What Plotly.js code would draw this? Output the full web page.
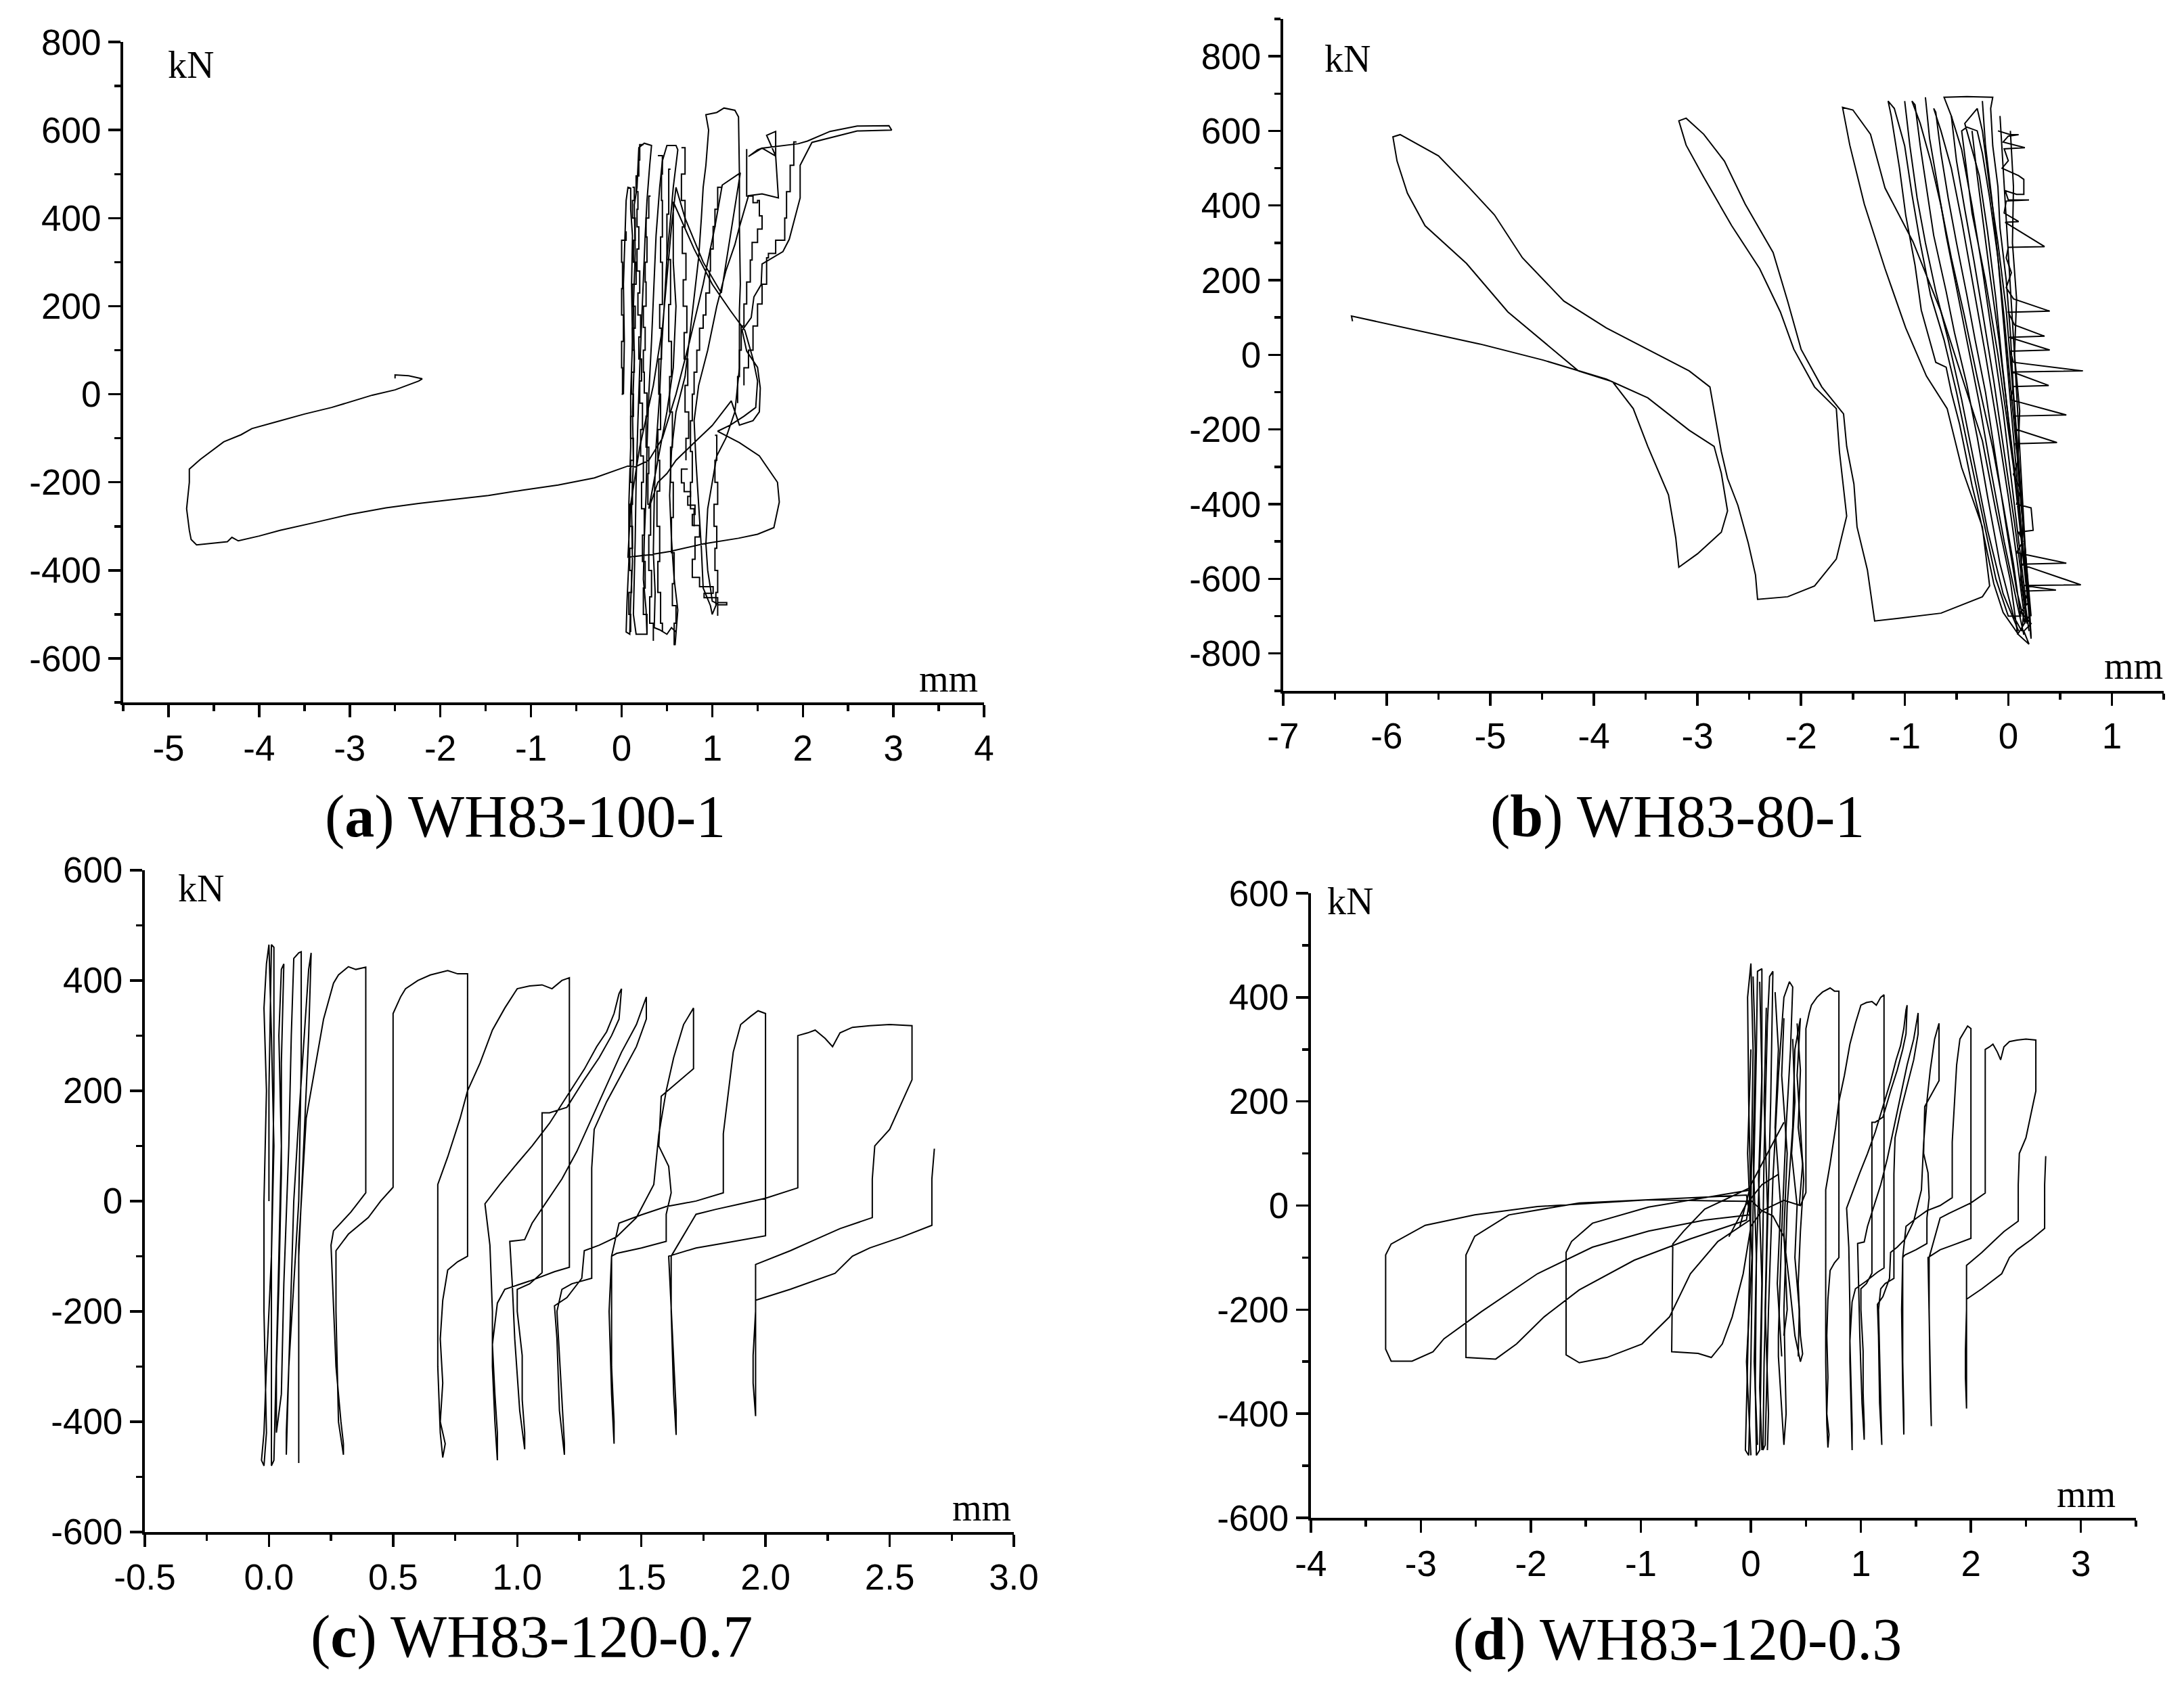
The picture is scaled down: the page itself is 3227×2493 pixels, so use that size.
<!DOCTYPE html>
<html><head><meta charset="utf-8">
<script src="https://cdn.plot.ly/plotly-3.0.1.min.js"></script>
<style>html,body{margin:0;padding:0;background:#fff}#chart{width:3227px;height:2493px}</style>
</head><body><div id="chart"></div>
<script>
// ---------------- data (displacement mm, load kN) ----------------
const aPts = [[0.02,0],[0.03,120],[0.02,250],[0.04,380],[0.05,440],[0.07,470],[0.1,468],[0.1,420],[0.12,360],[0.11,250],[0.12,120],[0.1,0],[0.1,-120],[0.08,-250],[0.08,-380],[0.06,-470],[0.05,-540],[0.09,-545],[0.1,-470],[0.12,-380],[0.11,-260],[0.13,-150],[0.12,-40],[0.14,80],[0.13,200],[0.15,320],[0.14,430],[0.17,470],[0.19,560],[0.25,570],[0.33,565],[0.31,520],[0.28,440],[0.26,360],[0.24,260],[0.22,170],[0.2,60],[0.18,-60],[0.16,-200],[0.15,-330],[0.14,-440],[0.13,-500],[0.16,-545],[0.28,-545],[0.27,-490],[0.24,-420],[0.25,-330],[0.27,-230],[0.28,-120],[0.3,0],[0.33,120],[0.36,250],[0.38,360],[0.42,470],[0.45,530],[0.5,565],[0.6,565],[0.62,555],[0.57,470],[0.54,400],[0.5,310],[0.47,200],[0.44,100],[0.42,0],[0.38,-120],[0.36,-240],[0.35,-360],[0.37,-450],[0.36,-530],[0.42,-535],[0.5,-545],[0.55,-530],[0.6,-540],[0.59,-570],[0.62,-490],[0.58,-420],[0.55,-330],[0.53,-230],[0.55,-130],[0.6,-40],[0.7,40],[0.75,130],[0.8,220],[0.85,310],[0.88,400],[0.9,470],[0.93,520],[0.96,600],[0.93,635],[1.05,640],[1.13,650],[1.25,645],[1.29,630],[1.3,500],[1.3,380],[1.31,250],[1.3,192],[1.3,60],[1.25,-40],[1.15,-100],[1.05,-140],[1.0,-200],[0.95,-260],[0.93,-340],[0.95,-400],[0.98,-440],[1.0,-470],[1.05,-475],[1.0,-500],[0.98,-480],[0.9,-440],[0.88,-350],[0.85,-250],[0.82,-150],[0.8,-60],[0.85,20],[0.95,100],[1.05,200],[1.15,280],[1.25,340],[1.3,380],[1.4,451],[1.55,455],[1.73,446],[1.7,541],[1.6,588],[1.7,597],[1.7,541],[1.55,559],[1.5,555],[1.4,540],[1.55,559],[1.95,569],[2.05,575],[2.3,597],[2.6,609],[2.95,610],[2.98,600],[2.6,598],[2.35,585],[2.1,572],[1.97,520],[1.97,446],[1.85,352],[1.78,324],[1.55,296],[1.54,249],[1.46,221],[1.43,174],[1.33,145],[1.38,98],[1.5,61],[1.53,14],[1.52,-40],[1.45,-60],[1.3,-70],[1.21,-15],[1.0,-71],[0.9,-90],[0.8,-110],[0.7,-130],[0.6,-150],[0.5,-180],[0.4,-200],[0.35,-230],[0.3,-260],[0.4,-150],[0.5,-40],[0.57,60],[0.6,200],[0.57,300],[0.57,437],[0.8,330],[1.0,250],[1.2,190],[1.36,145],[1.45,80],[1.5,30],[1.48,-30],[1.35,-50],[1.2,-70],[1.06,-84],[1.3,-110],[1.52,-140],[1.72,-200],[1.74,-245],[1.68,-303],[1.5,-318],[1.29,-327],[0.9,-340],[0.53,-357],[0.3,-365],[0.07,-370],[0.1,-250],[0.2,-120],[0.35,20],[0.45,150],[0.5,260],[0.55,380],[0.6,470],[0.7,400],[0.9,300],[1.1,230],[1.31,503],[1.21,489],[1.11,475],[1.03,381],[0.9,250],[0.75,120],[0.6,0],[0.45,-100],[0.3,-150],[0.15,-165],[0.07,-163],[-0.3,-190],[-0.7,-206],[-1.1,-218],[-1.47,-230],[-1.9,-240],[-2.24,-248],[-2.6,-258],[-3.0,-273],[-3.4,-292],[-3.77,-309],[-4.0,-322],[-4.23,-333],[-4.3,-325],[-4.35,-335],[-4.69,-342],[-4.75,-330],[-4.77,-309],[-4.8,-260],[-4.77,-200],[-4.77,-170],[-4.65,-148],[-4.5,-125],[-4.39,-108],[-4.2,-92],[-4.08,-78],[-3.8,-62],[-3.5,-45],[-3.2,-30],[-3.0,-18],[-2.75,-2],[-2.5,10],[-2.24,30],[-2.2,35],[-2.35,42],[-2.5,44],[-2.5,36]];

// staircase-like strands of the dense cluster in (a)
const aStairs = [
 [[0.12,470],[0.14,440],[0.12,400],[0.15,350],[0.13,300],[0.16,250],[0.12,200],[0.15,150],[0.12,100],[0.14,50],[0.11,0],[0.13,-50],[0.1,-100],[0.13,-150],[0.1,-200],[0.12,-250],[0.09,-300],[0.12,-350],[0.09,-400],[0.11,-450],[0.08,-500],[0.1,-540]],
 [[0.0,0],[0.01,60],[0.0,120],[0.02,180],[0.0,240],[0.01,300],[0.0,350],[0.05,370]],
 [[0.24,567],[0.2,532],[0.19,496],[0.16,460],[0.18,420],[0.17,380],[0.19,330],[0.17,280],[0.2,230],[0.18,180],[0.21,130],[0.19,80],[0.22,30],[0.2,-20],[0.23,-80],[0.21,-140],[0.24,-200],[0.22,-260],[0.25,-320],[0.23,-380],[0.26,-440],[0.24,-500],[0.28,-545]],
 [[0.32,450],[0.3,400],[0.27,357],[0.28,300],[0.26,255],[0.27,200],[0.24,152],[0.26,100],[0.24,50],[0.25,3],[0.28,-50],[0.27,-120],[0.3,-180],[0.29,-250],[0.32,-320],[0.3,-400],[0.33,-460],[0.31,-520],[0.35,-560]],
 [[0.4,542],[0.45,500],[0.44,440],[0.45,357],[0.43,300],[0.45,204],[0.42,150],[0.44,80],[0.41,0],[0.43,-80],[0.4,-150],[0.42,-220],[0.39,-300],[0.42,-380],[0.4,-450],[0.43,-520],[0.45,-540]],
 [[0.54,511],[0.52,409],[0.5,306],[0.54,204],[0.52,120],[0.55,40],[0.53,-40],[0.56,-120],[0.54,-200],[0.57,-280],[0.55,-360],[0.58,-430],[0.56,-480],[0.6,-520],[0.58,-570]],
 [[1.11,470],[1.06,420],[1.03,381],[1.01,330],[0.98,280],[0.97,230],[0.93,180],[0.9,150],[0.86,100],[0.83,50],[0.8,0],[0.78,-60],[0.76,-130],[0.78,-200],[0.76,-260],[0.8,-300]],
 [[1.38,557],[1.38,450],[1.45,435],[1.5,440],[1.52,405],[1.55,375],[1.5,345],[1.44,305],[1.42,255],[1.38,205],[1.35,155],[1.32,100],[1.3,40],[1.28,-20]],
 [[1.93,573],[1.9,520],[1.86,460],[1.82,400],[1.8,350],[1.7,320],[1.62,310],[1.6,250],[1.55,205],[1.5,155],[1.45,100],[1.4,60],[1.35,20]],
 [[0.73,-170],[0.66,-201],[0.69,-221],[0.76,-232],[0.73,-252],[0.81,-273],[0.78,-298],[0.86,-324],[0.81,-375],[0.78,-416],[0.86,-437],[1.01,-452],[0.91,-462],[1.06,-478],[1.16,-473],[1.06,-503]],
 [[1.03,-93],[1.05,-150],[1.03,-200],[1.06,-250],[1.02,-300],[1.05,-350],[1.03,-400],[1.06,-450],[1.04,-478]],
 [[0.66,560],[0.7,500],[0.66,440],[0.7,380],[0.67,320],[0.71,260],[0.68,200],[0.72,140],[0.69,80],[0.73,20],[0.7,-40],[0.74,-100],[0.71,-150]]
];

const bCore = [[-0.1,600],[0.02,590],[0.1,590],[0.0,586],[-0.05,570],[0.16,555],[-0.04,552],[0.0,520],[-0.06,500],[0.1,480],[0.15,470],[0.15,430],[0.08,430],[-0.03,440],[0.0,415],[0.2,415],[-0.02,412],[-0.04,380],[0.1,357],[-0.03,355],[0.35,290],[0.0,288],[-0.02,260],[0.03,220],[-0.02,180],[0.05,150],[0.4,117],[0.0,114],[0.06,80],[0.35,50],[0.01,47],[0.4,13],[0.02,10],[0.05,-20],[0.72,-43],[0.04,-46],[0.39,-82],[0.05,-85],[0.02,-120],[0.56,-161],[0.06,-164],[0.08,-200],[0.47,-235],[0.07,-238],[0.1,-280],[0.05,-320],[0.12,-360],[0.08,-400],[0.22,-410],[0.24,-470],[0.1,-475],[0.14,-500],[0.08,-530],[0.56,-558],[0.12,-561],[0.7,-616],[0.15,-618],[0.46,-630],[0.14,-633],[0.2,-660],[0.12,-690],[0.22,-720],[0.15,-740],[0.2,-775]];

const bBand = [[0.1,-750],[-0.05,-690],[-0.14,-613],[-0.27,-440],[-0.35,-350],[-0.47,-186],[-0.55,-100],[-0.6,-33],[-0.7,-20],[-0.84,120],[-0.9,240],[-0.99,374],[-1.05,500],[-1.13,640],[-1.16,680],[-1.1,660],[-1.0,560],[-0.93,430],[-0.85,300],[-0.75,160],[-0.62,40],[-0.5,-100],[-0.38,-260],[-0.25,-430],[-0.12,-600],[0.0,-700],[0.12,-700],[0.05,-560],[-0.05,-400],[-0.15,-250],[-0.3,-60],[-0.42,100],[-0.55,260],[-0.65,400],[-0.75,520],[-0.85,620],[-0.93,680],[-0.9,670],[-0.85,560],[-0.78,430],[-0.72,320],[-0.6,170],[-0.52,60],[-0.4,-80],[-0.3,-220],[-0.2,-380],[-0.08,-560],[0.05,-700],[0.13,-740],[0.15,-690],[0.08,-540],[0.0,-380],[-0.1,-200],[-0.22,0],[-0.35,200],[-0.45,360],[-0.55,500],[-0.65,600],[-0.72,660],[-0.7,650],[-0.65,540],[-0.58,420],[-0.5,300],[-0.4,160],[-0.32,40],[-0.22,-100],[-0.12,-280],[-0.02,-460],[0.08,-630],[0.16,-720],[0.17,-660],[0.1,-500],[0.03,-330],[-0.05,-150],[-0.15,40],[-0.25,230],[-0.35,400],[-0.45,550],[-0.55,640],[-0.62,690],[-0.4,692],[-0.2,690],[-0.15,690],[-0.17,660],[-0.15,560],[-0.1,450],[-0.08,340],[-0.02,200],[0.02,60],[0.05,-100],[0.1,-280],[0.15,-480],[0.2,-650],[0.22,-760],[0.2,-700],[0.15,-540],[0.1,-380],[0.05,-220],[0.0,-60],[-0.05,100],[-0.1,260],[-0.18,420],[-0.25,540],[-0.3,600],[-0.4,610],[-0.45,600],[-0.35,380],[-0.22,200],[-0.1,0],[0.05,-300],[0.2,-690],[0.18,-600],[0.1,-420],[0.02,-220],[-0.06,-20],[-0.12,150],[-0.2,330],[-0.28,480],[-0.36,560],[-0.42,620],[-0.3,660],[-0.25,600],[-0.18,450],[-0.1,300],[-0.02,120],[0.04,-80],[0.1,-300],[0.16,-520],[0.2,-700],[0.09,-749]];

const bStrands = [
 [[-1.0,680],[-0.95,560],[-0.88,420],[-0.8,300],[-0.7,170],[-0.58,40],[-0.45,-120],[-0.32,-300],[-0.2,-470],[-0.05,-640],[0.1,-740]],
 [[-0.8,690],[-0.76,580],[-0.68,450],[-0.6,320],[-0.5,180],[-0.4,40],[-0.28,-130],[-0.16,-320],[-0.04,-500],[0.08,-660],[0.15,-750]],
 [[-0.55,640],[-0.5,520],[-0.42,390],[-0.33,250],[-0.24,100],[-0.14,-70],[-0.04,-260],[0.06,-450],[0.14,-620],[0.2,-740]],
 [[-0.35,600],[-0.3,480],[-0.24,350],[-0.17,200],[-0.09,40],[-0.01,-140],[0.07,-330],[0.14,-520],[0.2,-680]],
 [[-0.25,680],[-0.22,560],[-0.16,420],[-0.1,260],[-0.04,100],[0.02,-80],[0.09,-280],[0.15,-480],[0.22,-700]],
 [[-0.08,640],[-0.05,500],[-0.02,350],[0.02,180],[0.06,0],[0.1,-200],[0.14,-400],[0.18,-600],[0.22,-760]],
 [[0.02,600],[0.05,450],[0.04,300],[0.08,150],[0.06,0],[0.11,-150],[0.09,-300],[0.14,-450],[0.12,-600],[0.18,-720]]
];

const bLoops = [[0.09,-749],[0.02,-605],[-0.12,-418],[-0.25,-230],[-0.45,-57],[-0.65,116],[-0.92,303],[-1.19,447],[-1.33,591],[-1.5,656],[-1.6,663],[-1.53,562],[-1.39,404],[-1.19,231],[-0.99,72],[-0.79,-57],[-0.59,-144],[-0.45,-302],[-0.25,-461],[-0.18,-619],[-0.25,-648],[-0.65,-692],[-1.06,-706],[-1.29,-713],[-1.36,-576],[-1.46,-461],[-1.49,-346],[-1.56,-245],[-1.59,-158],[-1.8,-86],[-2.0,15],[-2.13,144],[-2.27,274],[-2.54,404],[-2.74,519],[-2.94,591],[-3.11,634],[-3.18,627],[-3.11,562],[-2.94,476],[-2.67,346],[-2.4,231],[-2.2,115],[-2.07,15],[-1.87,-86],[-1.66,-144],[-1.63,-259],[-1.59,-360],[-1.56,-432],[-1.66,-547],[-1.87,-619],[-2.13,-648],[-2.42,-655],[-2.44,-590],[-2.51,-504],[-2.61,-403],[-2.71,-331],[-2.77,-259],[-2.84,-144],[-2.88,-86],[-3.08,-43],[-3.48,15],[-3.88,72],[-4.29,144],[-4.69,260],[-4.96,375],[-5.2,447],[-5.5,533],[-5.87,590],[-5.94,584],[-5.9,519],[-5.8,433],[-5.63,346],[-5.23,245],[-4.83,115],[-4.15,-43],[-3.82,-72],[-3.62,-144],[-3.48,-245],[-3.28,-375],[-3.21,-490],[-3.18,-569],[-3.0,-533],[-2.77,-475],[-2.71,-418],[-2.77,-317],[-2.84,-245],[-3.08,-202],[-3.48,-115],[-3.88,-65],[-4.49,-14],[-5.1,29],[-6.34,104],[-6.33,90]];

const cCluster = [[0,0],[0.0,200],[0.01,465],[0.02,460],[0.02,200],[0.01,-100],[-0.01,-300],[-0.02,-420],[-0.03,-470],[-0.02,-480],[-0.01,-420],[-0.02,-200],[-0.02,0],[-0.01,200],[-0.02,350],[-0.01,430],[0.0,465],[0.01,300],[0.02,100],[0.01,-100],[0.01,-300],[0.01,-480],[0.02,-470],[0.03,-300],[0.04,-100],[0.05,100],[0.04,300],[0.05,420],[0.06,430],[0.05,250],[0.05,50],[0.04,-150],[0.03,-300],[0.03,-420],[0.05,-350],[0.06,-150],[0.08,100],[0.09,300],[0.1,440],[0.12,450],[0.13,452],[0.13,250],[0.12,0],[0.1,-150],[0.08,-300],[0.07,-420],[0.07,-460],[0.08,-300],[0.09,-150],[0.1,0],[0.12,150],[0.15,350],[0.16,420],[0.17,450],[0.16,300],[0.14,100],[0.12,-100],[0.12,-300],[0.12,-475],[0.12,-300],[0.12,-80],[0.15,150],[0.22,330],[0.26,395],[0.28,410],[0.32,425],[0.35,420],[0.39,424],[0.39,300],[0.39,150],[0.39,15],[0.33,-20],[0.26,-54],[0.25,-80],[0.26,-200],[0.27,-300],[0.29,-400],[0.3,-440],[0.3,-460],[0.28,-400],[0.27,-200],[0.27,-90],[0.32,-60],[0.4,-30],[0.45,0]];

const dCenter = [[0,0],[-0.02,200],[-0.03,400],[0.0,465],[0.02,300],[0.0,0],[-0.03,-300],[-0.05,-470],[-0.02,-480],[0.0,-300],[0.02,0],[0.05,300],[0.06,450],[0.1,455],[0.1,200],[0.05,-100],[0.04,-350],[0.05,-480],[0.08,-470],[0.1,-200],[0.12,100],[0.15,350],[0.17,440],[0.2,450],[0.18,200],[0.15,-50],[0.12,-300],[0.11,-470],[0.13,-460],[0.16,-200],[0.2,50],[0.25,250],[0.3,400],[0.35,430],[0.38,420],[0.36,300],[0.32,150],[0.28,-50],[0.25,-250],[0.25,-290],[0.3,-460],[0.32,-400],[0.3,-200],[0.33,0],[0.38,150],[0.4,300],[0.45,360],[0.42,250],[0.45,150],[0.48,50],[0.45,-50],[0.43,-150],[0.45,-250],[0.47,-285],[0.45,-300],[0.4,-250],[0.35,-150],[0.3,-60],[0.2,-20],[0.1,-10],[0.0,10],[-0.04,8],[-0.93,11],[-1.94,-2],[-2.51,-18],[-2.96,-38],[-3.27,-74],[-3.32,-95],[-3.32,-276],[-3.27,-299],[-3.08,-299],[-2.89,-281],[-2.79,-256],[-2.45,-204],[-1.94,-131],[-1.44,-80],[-0.93,-49],[-0.42,-28],[-0.01,-18],[-0.04,20],[-1.56,5],[-2.2,-18],[-2.51,-59],[-2.59,-95],[-2.59,-292],[-2.32,-295],[-2.13,-266],[-1.88,-214],[-1.56,-162],[-1.06,-105],[-0.55,-64],[-0.04,-28],[0.0,30],[-0.93,-3],[-1.44,-34],[-1.63,-69],[-1.68,-90],[-1.68,-287],[-1.56,-302],[-1.31,-292],[-0.99,-266],[-0.74,-214],[-0.55,-131],[-0.3,-69],[-0.01,-28],[-0.01,34],[-0.42,-7],[-0.61,-49],[-0.71,-74],[-0.72,-281],[-0.48,-284],[-0.36,-292],[-0.26,-266],[-0.17,-214],[-0.07,-131],[0.0,-40],[0.1,-10],[0.3,10],[0.45,0]];

const dStrands = [
 [[0.02,440],[0.04,300],[0.02,100],[0.05,-100],[0.03,-300],[0.06,-460]],
 [[0.08,430],[0.1,250],[0.07,50],[0.1,-150],[0.08,-350],[0.1,-470]],
 [[0.14,380],[0.12,200],[0.15,0],[0.13,-200],[0.16,-400],[0.15,-470]],
 [[0.22,410],[0.25,300],[0.22,150],[0.27,0],[0.24,-150],[0.28,-290]],
 [[0.3,360],[0.28,250],[0.33,100],[0.3,-50],[0.33,-200],[0.3,-250]],
 [[0.38,320],[0.4,200],[0.37,100],[0.42,0],[0.4,-100],[0.44,-200],[0.43,-290]],
 [[0.42,350],[0.45,260],[0.43,150],[0.47,80],[0.44,0]],
 [[0.0,300],[-0.03,100],[0.01,-100],[-0.04,-300],[0.0,-480]],
 [[-0.1,-40],[0.0,40],[0.1,80],[0.2,120],[0.3,160]],
 [[-0.2,-60],[-0.05,0],[0.1,40],[0.25,60]]
];

const rightLoops = [[0.5,25],[0.5,200],[0.5,340],[0.53,370],[0.55,385],[0.6,400],[0.65,410],[0.72,418],[0.76,412],[0.8,412],[0.8,200],[0.8,0],[0.8,-100],[0.76,-110],[0.72,-125],[0.7,-180],[0.69,-250],[0.7,-330],[0.69,-400],[0.71,-440],[0.7,-465],[0.69,-420],[0.68,-300],[0.68,-180],[0.68,-60],[0.68,30],[0.72,80],[0.77,150],[0.8,200],[0.85,250],[0.9,310],[0.95,350],[1.0,385],[1.05,390],[1.1,392],[1.14,385],[1.18,400],[1.21,405],[1.21,200],[1.21,0],[1.21,-120],[1.15,-128],[1.05,-145],[0.95,-160],[0.92,-185],[0.9,-260],[0.91,-350],[0.92,-420],[0.92,-470],[0.91,-400],[0.9,-300],[0.9,-200],[0.89,-80],[0.87,-5],[0.93,30],[0.99,63],[1.06,100],[1.13,141],[1.2,190],[1.27,239],[1.32,280],[1.36,307],[1.39,340],[1.41,376],[1.42,385],[1.41,330],[1.38,300],[1.33,260],[1.27,220],[1.2,170],[1.13,160],[1.1,160],[1.1,50],[1.1,-50],[1.1,-130],[1.05,-150],[1.0,-160],[1.0,-200],[1.02,-280],[1.02,-360],[1.03,-420],[1.03,-450],[1.01,-380],[0.99,-250],[0.98,-150],[0.97,-73],[1.03,-70],[1.06,-40],[1.12,0],[1.18,40],[1.24,90],[1.3,150],[1.36,210],[1.42,270],[1.48,320],[1.52,370],[1.52,330],[1.48,280],[1.42,230],[1.36,180],[1.31,130],[1.3,60],[1.3,-50],[1.3,-140],[1.22,-150],[1.18,-160],[1.16,-200],[1.17,-280],[1.18,-360],[1.19,-440],[1.19,-460],[1.17,-380],[1.16,-250],[1.15,-190],[1.2,-175],[1.26,-140],[1.27,-90],[1.33,-80],[1.4,-65],[1.48,-30],[1.55,30],[1.57,120],[1.6,200],[1.63,260],[1.67,320],[1.71,350],[1.71,300],[1.71,240],[1.58,190],[1.57,100],[1.61,63],[1.62,15],[1.6,-24],[1.6,-73],[1.5,-85],[1.4,-95],[1.38,-100],[1.38,-200],[1.38,-300],[1.39,-400],[1.39,-440],[1.38,-350],[1.37,-200],[1.38,-100],[1.41,-40],[1.5,-25],[1.6,-10],[1.72,0],[1.83,15],[1.83,122],[1.85,200],[1.87,270],[1.9,320],[1.94,335],[1.97,345],[2.0,340],[2.0,200],[2.0,50],[2.0,-63],[1.85,-75],[1.72,-85],[1.61,-100],[1.62,-200],[1.63,-300],[1.64,-380],[1.64,-424],[1.63,-350],[1.62,-200],[1.62,-100],[1.72,-24],[1.8,-15],[1.9,-5],[2.0,5],[2.13,24],[2.13,150],[2.13,300],[2.17,305],[2.2,310],[2.24,295],[2.27,280],[2.3,305],[2.35,315],[2.42,318],[2.5,320],[2.59,318],[2.59,220],[2.55,180],[2.5,130],[2.44,100],[2.43,40],[2.43,-30],[2.3,-50],[2.2,-70],[2.1,-90],[1.96,-115],[1.96,-200],[1.95,-280],[1.95,-330],[1.96,-390],[1.96,-300],[1.96,-180],[2.1,-160],[2.28,-131],[2.35,-100],[2.42,-85],[2.55,-65],[2.67,-44],[2.67,-20],[2.67,40],[2.68,95]];

// tick values / labels
const aXTicks = [-5,-4,-3,-2,-1,0,1,2,3,4];
const aXLabels = ['-5','-4','-3','-2','-1','0','1','2','3','4'];
const aYTicks = [-600,-400,-200,0,200,400,600,800];
const aYLabels = ['-600','-400','-200','0','200','400','600','800'];
const bXTicks = [-7,-6,-5,-4,-3,-2,-1,0,1];
const bXLabels = ['-7','-6','-5','-4','-3','-2','-1','0','1'];
const bYTicks = [-800,-600,-400,-200,0,200,400,600,800];
const bYLabels = ['-800','-600','-400','-200','0','200','400','600','800'];
const cXTicks = [-0.5,0,0.5,1,1.5,2,2.5,3];
const cXLabels = ['-0.5','0.0','0.5','1.0','1.5','2.0','2.5','3.0'];
const cYTicks = [-600,-400,-200,0,200,400,600];
const cYLabels = ['-600','-400','-200','0','200','400','600'];
const dXTicks = [-4,-3,-2,-1,0,1,2,3];
const dXLabels = ['-4','-3','-2','-1','0','1','2','3'];
const dYTicks = [-600,-400,-200,0,200,400,600];
const dYLabels = ['-600','-400','-200','0','200','400','600'];

const captions = ['(<b>a</b>) WH83-100-1','(<b>b</b>) WH83-80-1','(<b>c</b>) WH83-120-0.7','(<b>d</b>) WH83-120-0.3'];

// ---------------- build ----------------
function tr(pts, xa, ya, shape){
  return {type:'scatter', mode:'lines', x:pts.map(p=>p?p[0]:null), y:pts.map(p=>p?p[1]:null),
    xaxis:xa, yaxis:ya, connectgaps:false, line:{color:'#000', width:2, shape:shape||'linear'}, hoverinfo:'skip'};
}
function joinSegs(segs){ const out=[]; segs.forEach(s=>{ s.forEach(p=>out.push(p)); out.push(null); }); return out; }
const data = [
  tr(aPts,'x','y'),
  tr(joinSegs(aStairs),'x','y','hv'),
  tr(bCore.concat(bBand, bLoops),'x2','y2'),
  tr(joinSegs(bStrands),'x2','y2'),
  tr(cCluster.concat(rightLoops),'x3','y3'),
  tr(dCenter.concat(rightLoops),'x4','y4'),
  tr(joinSegs(dStrands),'x4','y4')
];

const tickFont = {family:'Liberation Sans, Arial, sans-serif', size:53, color:'#000'};
function ax(domain, range, anchor, tv, tt, minorStep){
  return {domain:domain, range:range, anchor:anchor, tickmode:'array', tickvals:tv, ticktext:tt,
    showline:true, linewidth:4, linecolor:'#000', mirror:false, showgrid:false, zeroline:false,
    ticks:'outside', ticklen:18, tickwidth:3.5, tickcolor:'#000', tickfont:tickFont,
    minor:{dtick:minorStep, tick0:0, ticks:'outside', ticklen:9, tickwidth:3.5, tickcolor:'#000', showgrid:false},
    fixedrange:true};
}
const layout = {
  width:3227, height:2493, margin:{l:0,r:0,t:0,b:0}, paper_bgcolor:'#fff', plot_bgcolor:'rgba(0,0,0,0)',
  showlegend:false,
  xaxis:  ax([0.0564,0.4506],[-5.5,4],'y', aXTicks, aXLabels, 0.5),
  yaxis:  ax([0.5836,0.9751],[-700,800],'x', aYTicks, aYLabels, 100),
  xaxis2: ax([0.5875,0.9907],[-7,1.5],'y2', bXTicks, bXLabels, 0.5),
  yaxis2: ax([0.5905,0.9888],[-900,900],'x2', bYTicks, bYLabels, 100),
  xaxis3: ax([0.0663,0.4642],[-0.5,3.0],'y3', cXTicks, cXLabels, 0.25),
  yaxis3: ax([0.0919,0.4842],[-600,600],'x3', cYTicks, cYLabels, 100),
  xaxis4: ax([0.6002,0.978],[-4,3.5],'y4', dXTicks, dXLabels, 0.5),
  yaxis4: ax([0.1003,0.4705],[-600,600],'x4', dYTicks, dYLabels, 100),
  annotations: []
};
const serif = 'Liberation Serif, Times New Roman, serif';
const capPos = [[776,1206],[2478,1206],[785,2418],[2478,2422]];
capPos.forEach((p,i)=>layout.annotations.push({xref:'paper',yref:'paper',x:p[0]/3227,y:1-p[1]/2493,
  xanchor:'center',yanchor:'middle',showarrow:false,text:captions[i],font:{family:serif,size:88,color:'#000'}}));
const kNPos = [[246,96],[1955,87],[261,1313],[1959,1332]];
kNPos.forEach(p=>layout.annotations.push({xref:'paper',yref:'paper',x:p[0]/3227,y:1-p[1]/2493,
  xanchor:'left',yanchor:'middle',showarrow:false,text:'kN',font:{family:serif,size:56,color:'#000'}}));
const mmPos = [[1447,1003],[3198,984],[1496,2228],[3128,2208]];
mmPos.forEach(p=>layout.annotations.push({xref:'paper',yref:'paper',x:p[0]/3227,y:1-p[1]/2493,
  xanchor:'right',yanchor:'middle',showarrow:false,text:'mm',font:{family:serif,size:56,color:'#000'}}));

Plotly.newPlot('chart', data, layout, {staticPlot:true, displayModeBar:false});
</script></body></html>
